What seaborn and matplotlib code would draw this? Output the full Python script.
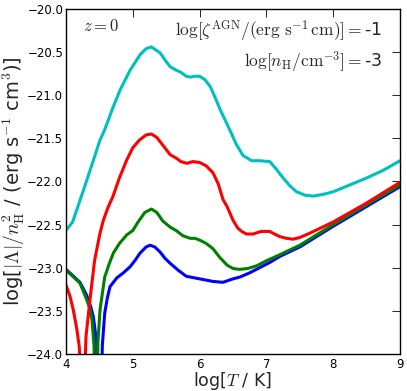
import numpy as np
import pandas as pd
import matplotlib
matplotlib.use("Agg")
import matplotlib.pyplot as plt
import seaborn as sns

# ---- data (log T, log |Lambda|/nH^2) ----
cyan_x = [4.0, 4.1, 4.25, 4.4, 4.51, 4.58, 4.7, 4.81, 4.96, 5.11, 5.2, 5.28, 5.41, 5.5,
          5.56, 5.65, 5.71, 5.8, 5.86, 5.93, 6.0, 6.08, 6.16, 6.24, 6.31, 6.45, 6.55,
          6.65, 6.78, 6.9, 7.05, 7.15, 7.25, 7.35, 7.45, 7.58, 7.7, 7.85, 8.0, 8.25,
          8.5, 8.75, 9.0]
cyan_y = [-22.57, -22.47, -22.13, -21.78, -21.52, -21.40, -21.15, -20.94, -20.71, -20.53,
          -20.46, -20.44, -20.51, -20.61, -20.67, -20.71, -20.73, -20.78, -20.79, -20.78,
          -20.78, -20.82, -20.90, -21.04, -21.17, -21.40, -21.57, -21.70, -21.76, -21.76,
          -21.77, -21.86, -21.96, -22.05, -22.12, -22.16, -22.17, -22.15, -22.12, -22.04,
          -21.96, -21.87, -21.76]

red_left_x = [4.0, 4.06, 4.11, 4.16, 4.2, 4.225]
red_left_y = [-23.20, -23.33, -23.49, -23.70, -23.92, -24.5]
red_x = [4.27, 4.30, 4.36, 4.43, 4.51, 4.56, 4.63, 4.7, 4.8, 4.91, 5.0, 5.1, 5.2, 5.28,
         5.36, 5.45, 5.56, 5.65, 5.72, 5.81, 5.9, 6.0, 6.1, 6.2, 6.28, 6.35, 6.41, 6.5,
         6.57, 6.63, 6.7, 6.8, 6.92, 7.05, 7.12, 7.2, 7.3, 7.4, 7.5, 7.65, 8.0, 8.5, 9.0]
red_y = [-24.5, -23.8, -23.37, -22.91, -22.60, -22.45, -22.30, -22.18, -21.96, -21.75,
         -21.61, -21.52, -21.46, -21.45, -21.49, -21.58, -21.69, -21.73, -21.77, -21.79,
         -21.77, -21.78, -21.82, -21.90, -22.03, -22.21, -22.29, -22.45, -22.54, -22.58,
         -22.61, -22.61, -22.58, -22.58, -22.61, -22.64, -22.66, -22.67, -22.65, -22.60,
         -22.47, -22.25, -22.01]

green_left_x = [4.0, 4.1, 4.21, 4.31, 4.36, 4.39, 4.42, 4.435]
green_left_y = [-23.03, -23.10, -23.18, -23.37, -23.48, -23.61, -23.9, -24.5]
green_x = [4.46, 4.48, 4.51, 4.55, 4.58, 4.65, 4.71, 4.8, 4.91, 5.0, 5.08, 5.18, 5.28,
           5.36, 5.45, 5.56, 5.65, 5.75, 5.86, 5.93, 6.0, 6.1, 6.2, 6.3, 6.41, 6.5, 6.6,
           6.72, 6.85, 7.0, 7.2, 7.5, 8.0, 8.5, 9.0]
green_y = [-24.5, -23.85, -23.49, -23.27, -23.11, -22.95, -22.83, -22.72, -22.62, -22.57,
           -22.47, -22.36, -22.32, -22.36, -22.46, -22.53, -22.57, -22.63, -22.66, -22.66,
           -22.68, -22.72, -22.78, -22.88, -22.97, -23.01, -23.02, -23.01, -22.98, -22.92,
           -22.85, -22.74, -22.50, -22.27, -22.04]

blue_left_x = [4.0, 4.1, 4.21, 4.31, 4.37, 4.41, 4.44, 4.46, 4.47]
blue_left_y = [-23.02, -23.09, -23.17, -23.32, -23.45, -23.57, -23.75, -24.0, -24.5]
blue_x = [4.525, 4.545, 4.58, 4.62, 4.66, 4.76, 4.86, 4.96, 5.04, 5.11, 5.2, 5.26, 5.33,
          5.41, 5.48, 5.56, 5.68, 5.8, 6.0, 6.2, 6.35, 6.5, 6.6, 6.75, 6.9, 7.05, 7.2,
          7.5, 8.0, 8.5, 9.0]
blue_y = [-24.5, -23.9, -23.53, -23.35, -23.22, -23.12, -23.06, -22.99, -22.91, -22.83,
          -22.76, -22.74, -22.76, -22.82, -22.89, -22.95, -23.03, -23.10, -23.13, -23.16,
          -23.17, -23.13, -23.11, -23.06, -23.00, -22.94, -22.87, -22.76, -22.52, -22.29,
          -22.06]

x_ticks = [4, 5, 6, 7, 8, 9]
y_ticks = [-24.0, -23.5, -23.0, -22.5, -22.0, -21.5, -21.0, -20.5, -20.0]

# ---- build long table ----
segments = [
    ("cyan", "c0", cyan_x, cyan_y),
    ("red", "r0", red_left_x, red_left_y),
    ("red", "r1", red_x, red_y),
    ("green", "g0", green_left_x, green_left_y),
    ("green", "g1", green_x, green_y),
    ("blue", "b0", blue_left_x, blue_left_y),
    ("blue", "b1", blue_x, blue_y),
]
rows = []
for series, seg, xs, ys in segments:
    for xv, yv in zip(xs, ys):
        rows.append({"logT": xv, "logL": yv, "series": series, "segment": seg})
df = pd.DataFrame(rows)

sns.set_style("white")
plt.rcParams["mathtext.fontset"] = "cm"
plt.rcParams["font.family"] = ["DejaVu Sans"]

fig = plt.figure(figsize=(4.07, 3.91), dpi=100)
ax = fig.add_axes([0.162, 0.095, 0.821, 0.882])

palette = {"cyan": (0.0, 0.75, 0.75), "red": (1.0, 0.0, 0.0),
           "green": (0.0, 0.5, 0.0), "blue": (0.0, 0.0, 1.0)}
sns.lineplot(data=df, x="logT", y="logL", hue="series", units="segment",
             hue_order=["blue", "green", "red", "cyan"],
             estimator=None, sort=False, palette=palette, linewidth=2.2,
             legend=False, ax=ax)

ax.set_xlim(4, 9)
ax.set_ylim(-24, -20)
ax.set_xticks(x_ticks)
ax.set_yticks(y_ticks)
ax.set_xticklabels([str(t) for t in x_ticks])
ax.set_yticklabels([("\u2212%.1f" % abs(t)) for t in y_ticks])
ax.tick_params(direction="in", length=6, width=0.6, top=True, right=True,
               labelsize=8.5, colors="black", pad=2)
ax.tick_params(axis="x", pad=3)
for s in ax.spines.values():
    s.set_color("black")
    s.set_linewidth(1.0)

ax.set_xlabel(r"log[$T$ / K]", fontsize=12.5, labelpad=-1)
ax.set_ylabel(r"log[$|\Lambda|/n_{\rm H}^2$ / (erg s$^{-1}$ cm$^3$)]", fontsize=14, labelpad=0)

ax.text(0.05, 0.95, r"$z=0$", transform=ax.transAxes, fontsize=12,
        ha="left", va="center")
ax.text(0.945, 0.935, r"$\log[\zeta^{\rm AGN}/(\rm erg\ s^{-1}\,cm)]=$-1",
        transform=ax.transAxes, fontsize=12.5, ha="right", va="center")
ax.text(0.945, 0.846, r"$\log[n_{\rm H}/{\rm cm}^{-3}]=$-3",
        transform=ax.transAxes, fontsize=12.5, ha="right", va="center")

fig.savefig("out.png", dpi=100)
